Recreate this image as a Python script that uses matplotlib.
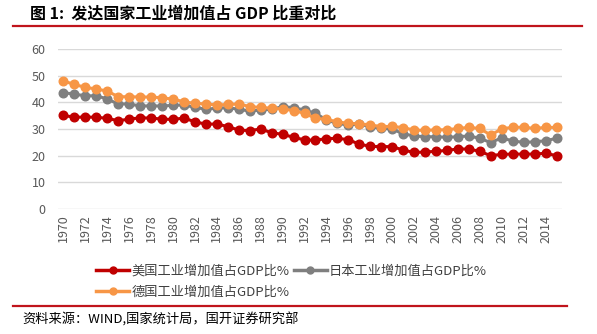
import matplotlib.pyplot as plt
import numpy as np
from matplotlib.lines import Line2D

plt.rcParams['font.family'] = ['Noto Sans CJK SC', 'DejaVu Sans']

years = list(range(1970, 2016))
us = [35.1, 34.4, 34.5, 34.4, 34.0, 33.1, 33.7, 34.2, 34.1, 33.7,
      33.6, 34.1, 32.7, 31.8, 31.9, 30.9, 29.6, 29.4, 30.0, 28.6,
      28.0, 26.9, 25.9, 25.8, 26.4, 26.5, 26.0, 24.3, 23.5, 23.4,
      23.4, 22.1, 21.2, 21.4, 21.6, 22.0, 22.5, 22.5, 21.6, 20.0,
      20.5, 20.6, 20.6, 20.6, 20.9, 20.0]
japan = [43.6, 43.1, 42.4, 42.5, 41.2, 39.4, 39.4, 38.6, 38.7, 38.6,
         38.9, 39.0, 38.1, 37.4, 37.8, 38.0, 37.4, 36.7, 37.1, 37.4,
         38.4, 38.0, 37.1, 35.9, 33.4, 32.1, 31.5, 31.8, 30.9, 30.2,
         30.0, 28.2, 27.4, 27.1, 27.1, 26.9, 27.1, 27.4, 26.5, 24.9,
         26.7, 25.5, 25.0, 25.2, 25.6, 26.5]
germany = [48.0, 46.7, 45.6, 45.0, 44.2, 42.1, 42.1, 42.0, 42.0, 41.7,
           41.2, 40.2, 39.6, 39.4, 39.0, 39.2, 39.4, 38.4, 38.1, 37.8,
           37.5, 36.9, 35.9, 34.0, 33.6, 32.7, 32.1, 32.0, 31.5, 30.9,
           31.0, 30.5, 29.6, 29.5, 29.7, 29.7, 30.2, 30.6, 30.2, 27.7,
           30.1, 30.6, 30.7, 30.2, 30.6, 30.6]
labels = ['美国工业增加值占GDP比%', '日本工业增加值占GDP比%', '德国工业增加值占GDP比%']
colors = ['#C00000', '#7F7F7F', '#F79646']

fig = plt.figure(figsize=(5.97, 3.34), dpi=100)
ax = fig.add_axes([58 / 597, 1 - 209 / 334, (562 - 58) / 597, 160 / 334])

x = np.arange(len(years))
for s, c in zip([us, japan, germany], colors):
    ax.plot(x, s, color=c, lw=2.2, marker='o', ms=6.2, mec=c)

ax.set_xlim(-0.5, len(years) - 0.5)
ax.set_ylim(0, 60)
ax.set_yticks(range(0, 61, 10))
ax.set_xticks(x[::2])
ax.set_xticklabels([str(y) for y in years[::2]], rotation=90)
ax.tick_params(length=0, labelsize=9, colors='#595959', pad=4)
ax.tick_params(axis='y', pad=9)
ax.grid(axis='y', color='#D9D9D9', lw=1)
ax.set_axisbelow(True)
for sp in ax.spines.values():
    sp.set_visible(False)

# legend: two rows
leg_kw = dict(loc='center left', frameon=False, fontsize=9.5, handlelength=2.5,
              handletextpad=0.15, columnspacing=0.35, labelcolor='#404040', borderaxespad=0)
handles = [Line2D([], [], color=c, lw=2.5, marker='o', ms=5, mec=c) for c in colors]
fig.legend(handles[:2], labels[:2], bbox_to_anchor=(91 / 597, 1 - 271 / 334), ncol=2, **leg_kw)
fig.legend(handles[2:], labels[2:], bbox_to_anchor=(91 / 597, 1 - 292 / 334), **leg_kw)

# header and footer
fig.text(30 / 597, 1 - 14 / 334, '图 1:  发达国家工业增加值占 GDP 比重对比', fontsize=11.5,
         fontweight='bold', va='center', ha='left', color='#000000')
fig.add_artist(Line2D([13 / 597, 582 / 597], [1 - 25.5 / 334] * 2, color='#C0141C', lw=1.6))
fig.add_artist(Line2D([13 / 597, 567 / 597], [1 - 306 / 334] * 2, color='#C0141C', lw=1.6))
fig.text(22 / 597, 1 - 320 / 334, '资料来源：WIND,国家统计局，国开证券研究部', fontsize=9.5,
         va='center', ha='left', color='#000000')

fig.savefig('out.png', dpi=100)
